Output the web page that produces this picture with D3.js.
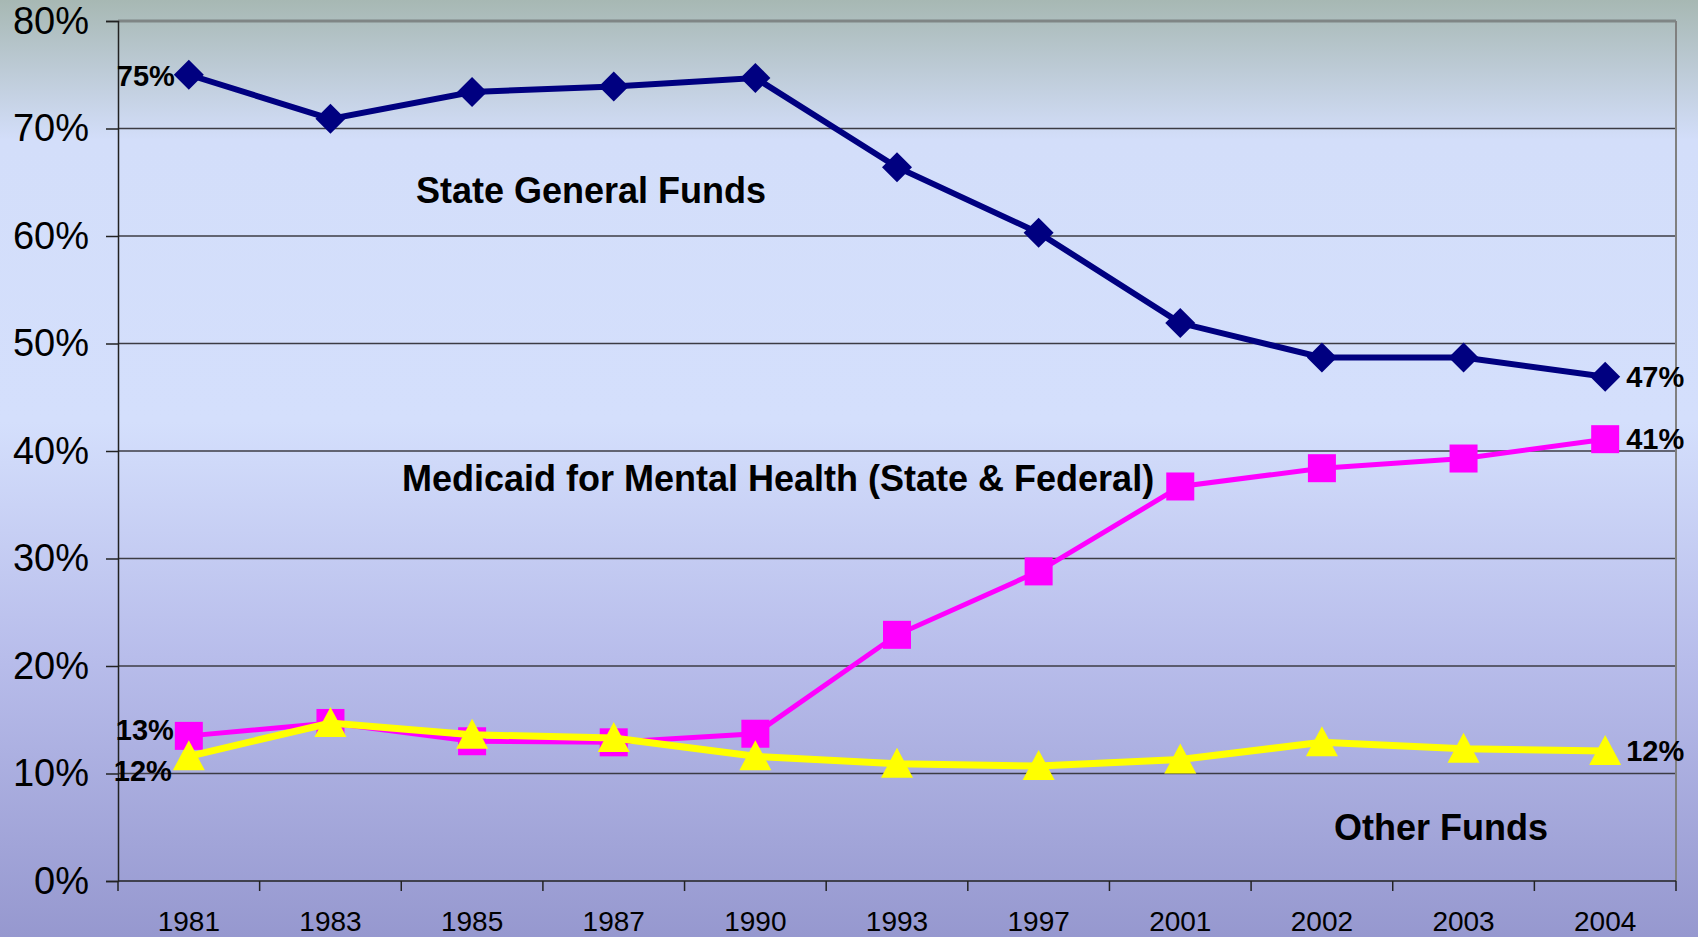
<!DOCTYPE html>
<html>
<head>
<meta charset="utf-8">
<script src="https://cdn.jsdelivr.net/npm/d3@7"></script>
<style>
  body { margin: 0; overflow: hidden; }
  svg { display: block; font-family: "Liberation Sans", Arial, sans-serif; }
</style>
</head>
<body>
<script>
// chart data
var years = ["1981", "1983", "1985", "1987", "1990", "1993", "1997", "2001", "2002", "2003", "2004"];
var stateFunds = [75.0, 70.9, 73.4, 73.9, 74.7, 66.4, 60.3, 51.9, 48.7, 48.7, 46.9];
var medicaid = [13.5, 14.7, 13.0, 12.9, 13.7, 22.9, 28.8, 36.7, 38.4, 39.3, 41.1];
var otherFunds = [11.6, 14.7, 13.6, 13.3, 11.6, 10.9, 10.7, 11.3, 12.9, 12.3, 12.1];
var yTicks = [0, 10, 20, 30, 40, 50, 60, 70, 80];

var width = 1698, height = 937;
var margin = { top: 21, right: 22, bottom: 56, left: 118 };

var svg = d3.select("body").append("svg")
  .attr("width", width)
  .attr("height", height);

// background gradient
var grad = svg.append("defs").append("linearGradient")
  .attr("id", "bg")
  .attr("x1", 0).attr("y1", 0).attr("x2", 0).attr("y2", 1);
grad.append("stop").attr("offset", "0%").attr("stop-color", "#a7b8b3");
grad.append("stop").attr("offset", "15%").attr("stop-color", "#d3defa");
grad.append("stop").attr("offset", "45%").attr("stop-color", "#d4dffc");
grad.append("stop").attr("offset", "70%").attr("stop-color", "#b8bdeb");
grad.append("stop").attr("offset", "100%").attr("stop-color", "#9698cf");

svg.append("rect")
  .attr("width", width).attr("height", height)
  .attr("fill", "url(#bg)");

var x = d3.scaleBand()
  .domain(years)
  .range([margin.left, width - margin.right]);

var y = d3.scaleLinear()
  .domain([0, 80])
  .range([height - margin.bottom, margin.top]);

var cx = function(i) { return x(years[i]) + x.bandwidth() / 2; };

// gridlines
svg.append("g").selectAll("line")
  .data(yTicks.slice(1))
  .enter().append("line")
  .attr("x1", margin.left).attr("x2", width - margin.right)
  .attr("y1", function(d) { return y(d); })
  .attr("y2", function(d) { return y(d); })
  .attr("stroke", function(d) { return d == 80 ? "#7f8585" : "#3c3c44"; })
  .attr("stroke-width", function(d) { return d == 80 ? 3 : 1.3; });

// right border
svg.append("line")
  .attr("x1", width - margin.right).attr("x2", width - margin.right)
  .attr("y1", margin.top).attr("y2", y(0))
  .attr("stroke", "#808080").attr("stroke-width", 2);

// y axis
var yAxis = svg.append("g")
  .attr("transform", "translate(" + margin.left + ",0)")
  .call(d3.axisLeft(y).tickValues(yTicks).tickSize(12).tickPadding(17)
    .tickFormat(function(d) { return d + "%"; }));
yAxis.select(".domain").attr("stroke", "#222").attr("stroke-width", 1.5);
yAxis.selectAll(".tick line").attr("stroke", "#222").attr("stroke-width", 1.5);
yAxis.selectAll("text")
  .attr("fill", "#000")
  .style("font-size", "38px")
  .style("font-family", "Liberation Sans, Arial, sans-serif");

// x axis (labels centred, ticks on category boundaries)
var xAxis = svg.append("g")
  .attr("transform", "translate(0," + y(0) + ")")
  .call(d3.axisBottom(x).tickSize(0).tickPadding(30));
xAxis.select(".domain").remove();
xAxis.selectAll("text")
  .attr("fill", "#000")
  .style("font-size", "28px")
  .style("font-family", "Liberation Sans, Arial, sans-serif");

svg.append("line")
  .attr("x1", margin.left).attr("x2", width - margin.right)
  .attr("y1", y(0)).attr("y2", y(0))
  .attr("stroke", "#222").attr("stroke-width", 1.5);

svg.append("g").selectAll("line")
  .data(years.concat(["end"]))
  .enter().append("line")
  .attr("x1", function(d, i) { return margin.left + i * x.bandwidth(); })
  .attr("x2", function(d, i) { return margin.left + i * x.bandwidth(); })
  .attr("y1", y(0)).attr("y2", y(0) + 10)
  .attr("stroke", "#222").attr("stroke-width", 1.5);

var line = d3.line()
  .x(function(d, i) { return cx(i); })
  .y(function(d) { return y(d); });

// State General Funds
svg.append("path").datum(stateFunds)
  .attr("d", line).attr("fill", "none")
  .attr("stroke", "#000080").attr("stroke-width", 6);
// Medicaid
svg.append("path").datum(medicaid)
  .attr("d", line).attr("fill", "none")
  .attr("stroke", "#ff00ff").attr("stroke-width", 5);

svg.append("g").selectAll("rect")
  .data(medicaid).enter().append("rect")
  .attr("x", function(d, i) { return cx(i) - 14; })
  .attr("y", function(d) { return y(d) - 14; })
  .attr("width", 28).attr("height", 28)
  .attr("fill", "#ff00ff");

// Other Funds
svg.append("path").datum(otherFunds)
  .attr("d", line).attr("fill", "none")
  .attr("stroke", "#ffff00").attr("stroke-width", 7);

svg.append("g").selectAll("path")
  .data(otherFunds).enter().append("path")
  .attr("d", "M0,-16L16,14L-16,14Z")
  .attr("transform", function(d, i) { return "translate(" + cx(i) + "," + y(d) + ")"; })
  .attr("fill", "#ffff00");

svg.append("g").selectAll("path")
  .data(stateFunds).enter().append("path")
  .attr("d", "M0,-15L15,0L0,15L-15,0Z")
  .attr("transform", function(d, i) { return "translate(" + cx(i) + "," + y(d) + ")"; })
  .attr("fill", "#000080");

// annotations
var notes = [
  { t: "State General Funds", x: 416, y: 190 },
  { t: "Medicaid for Mental Health (State & Federal)", x: 402, y: 478 },
  { t: "Other Funds", x: 1334, y: 827 }
];
svg.append("g").selectAll("text")
  .data(notes).enter().append("text")
  .attr("x", function(d) { return d.x; })
  .attr("y", function(d) { return d.y; })
  .attr("dy", "0.35em")
  .style("font-size", "36px")
  .style("font-weight", "bold")
  .text(function(d) { return d.t; });

// value labels at the ends
var last = years.length - 1;
var valueLabels = [
  { t: "75%", x: cx(0) - 14, y: y(stateFunds[0]) + 1, a: "end" },
  { t: "13%", x: cx(0) - 15, y: y(medicaid[0]) - 6, a: "end" },
  { t: "12%", x: cx(0) - 17, y: y(otherFunds[0]) + 15, a: "end" },
  { t: "47%", x: cx(last) + 21, y: y(stateFunds[last]), a: "start" },
  { t: "41%", x: cx(last) + 21, y: y(medicaid[last]), a: "start" },
  { t: "12%", x: cx(last) + 21, y: y(otherFunds[last]), a: "start" }
];
svg.append("g").selectAll("text")
  .data(valueLabels).enter().append("text")
  .attr("x", function(d) { return d.x; })
  .attr("y", function(d) { return d.y; })
  .attr("dy", "0.35em")
  .attr("text-anchor", function(d) { return d.a; })
  .style("font-size", "29px")
  .style("font-weight", "bold")
  .text(function(d) { return d.t; });
</script>
</body>
</html>
